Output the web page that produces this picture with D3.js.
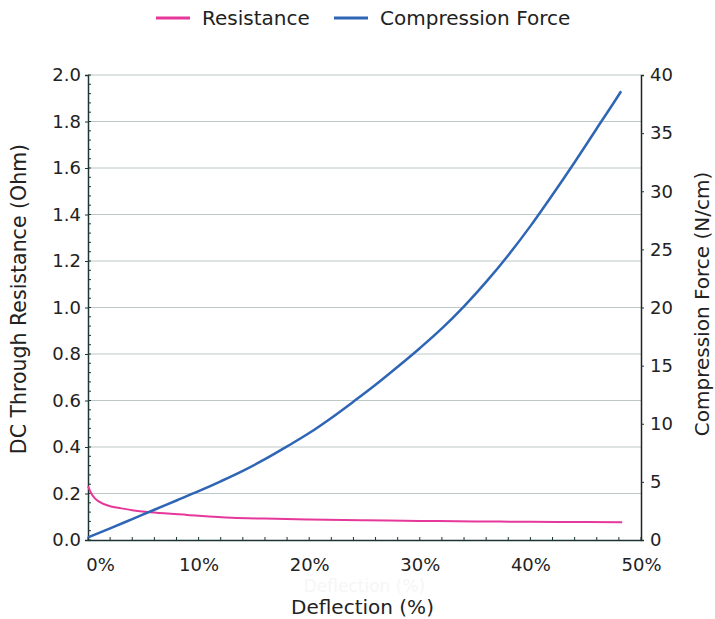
<!DOCTYPE html>
<html>
<head>
<meta charset="utf-8">
<script src="https://cdn.jsdelivr.net/npm/d3@7"></script>
<style>
  body { margin: 0; background: #fff; }
  text { font-family: "DejaVu Sans", sans-serif; fill: #222; }
</style>
</head>
<body>
<div id="chart"></div>
<script>
// deflection (%) -> DC through resistance (Ohm)
const resDeflection = [0, 0.3, 0.6, 1, 2, 3, 4, 6, 9, 13, 16, 20, 25, 30, 35, 40, 45, 48.3];
const resValues = [0.232, 0.2, 0.18, 0.165, 0.145, 0.136, 0.128, 0.118, 0.108, 0.096, 0.092, 0.088, 0.085, 0.082, 0.080, 0.078, 0.077, 0.076];

// deflection (%) -> compression force (N/cm)
const forceDeflection = [0, 2, 4, 6, 8, 10, 12, 14, 16, 18, 20, 22, 24, 26, 28, 30, 32, 34, 36, 38, 40, 42, 44, 46, 48, 48.2];
const forceValues = [0.22, 1.0, 1.8, 2.6, 3.4, 4.2, 5.05, 5.95, 6.95, 8.05, 9.2, 10.5, 11.9, 13.35, 14.9, 16.5, 18.2, 20.1, 22.2, 24.5, 27.0, 29.7, 32.5, 35.4, 38.3, 38.6];

const leftTicks = [0, 0.2, 0.4, 0.6, 0.8, 1.0, 1.2, 1.4, 1.6, 1.8, 2.0];
const rightTicks = [0, 5, 10, 15, 20, 25, 30, 35, 40];
const xTicks = [0, 10, 20, 30, 40, 50];

const width = 715, height = 619;
const margins = { top: 75, right: 74, bottom: 79, left: 88 };
const innerW = width - margins.left - margins.right;
const innerH = height - margins.top - margins.bottom;

const pink = "#e6389a";
const blue = "#2f65b5";

const svg = d3.select("#chart")
  .append("svg")
  .attr("width", width)
  .attr("height", height);

const g = svg.append("g")
  .attr("transform", `translate(${margins.left}, ${margins.top})`);

const x = d3.scaleLinear().domain([0, 50]).range([0, innerW]);
const yL = d3.scaleLinear().domain([0, 2]).range([innerH, 0]);
const yR = d3.scaleLinear().domain([0, 40]).range([innerH, 0]);

// gridlines
g.append("g")
  .selectAll("line")
  .data(leftTicks.slice(1))
  .join("line")
  .attr("x1", 0)
  .attr("x2", innerW)
  .attr("y1", d => yL(d))
  .attr("y2", d => yL(d))
  .attr("stroke", "#bcc7c7")
  .attr("stroke-width", 1);

// minor ticks (inside)
g.append("g")
  .selectAll("line")
  .data(d3.range(0, 2.001, 0.04))
  .join("line")
  .attr("x1", 0).attr("x2", 3)
  .attr("y1", d => yL(d)).attr("y2", d => yL(d))
  .attr("stroke", "#1c3434");

g.append("g")
  .selectAll("line")
  .data(d3.range(0, 50.001, 2))
  .join("line")
  .attr("x1", d => x(d)).attr("x2", d => x(d))
  .attr("y1", innerH).attr("y2", innerH - 3)
  .attr("stroke", "#1c3434");

// axes
const xAxis = g.append("g")
  .attr("transform", `translate(0, ${innerH})`)
  .call(d3.axisBottom(x).tickValues(xTicks).tickFormat(d => d + "%").tickSize(0).tickPadding(18));

const leftAxis = g.append("g")
  .call(d3.axisLeft(yL).tickValues(leftTicks).tickFormat(d3.format(".1f")).tickSize(3).tickPadding(4));

const rightAxis = g.append("g")
  .attr("transform", `translate(${innerW}, 0)`)
  .call(d3.axisRight(yR).tickValues(rightTicks).tickSize(3).tickPadding(6));

[xAxis, leftAxis, rightAxis].forEach(a => {
  a.select(".domain").attr("stroke", "#1c3434").attr("stroke-width", 1.5);
  a.selectAll(".tick line").attr("stroke", "#1c3434");
  a.selectAll("text").attr("font-size", 18).attr("font-family", "DejaVu Sans").attr("fill", "#222");
});
rightAxis.select(".domain").attr("stroke", "#222");
xAxis.selectAll(".tick text").filter(d => d === 0).attr("dx", 12);

// lines
const resLine = d3.line()
  .x((d, i) => x(resDeflection[i]))
  .y(d => yL(d))
  .curve(d3.curveMonotoneX);

const forceLine = d3.line()
  .x((d, i) => x(forceDeflection[i]))
  .y(d => yR(d))
  .curve(d3.curveMonotoneX);

g.append("path")
  .datum(resValues)
  .attr("fill", "none")
  .attr("stroke", pink)
  .attr("stroke-width", 2)
  .attr("d", resLine);

g.append("path")
  .datum(forceValues)
  .attr("fill", "none")
  .attr("stroke", blue)
  .attr("stroke-width", 2.5)
  .attr("d", forceLine);

// axis titles (faint duplicate sits just above the real one in the original)
svg.append("text")
  .attr("x", margins.left + innerW / 2)
  .attr("y", 592)
  .attr("text-anchor", "middle")
  .attr("font-size", 17)
  .style("fill", "#f6f6f6")
  .text("Deflection (%)");

svg.append("text")
  .attr("x", margins.left + innerW / 2 - 2)
  .attr("y", 614)
  .attr("text-anchor", "middle")
  .attr("font-size", 20)
  .text("Deflection (%)");

svg.append("text")
  .attr("transform", "rotate(-90)")
  .attr("x", -299)
  .attr("y", 26)
  .attr("text-anchor", "middle")
  .attr("font-size", 20.5)
  .text("DC Through Resistance (Ohm)");

svg.append("text")
  .attr("transform", "rotate(-90)")
  .attr("x", -304)
  .attr("y", 709)
  .attr("text-anchor", "middle")
  .attr("font-size", 20)
  .text("Compression Force (N/cm)");

// legend
const legend = svg.append("g");
const items = [
  { name: "Resistance", color: pink, x: 156 },
  { name: "Compression Force", color: blue, x: 334 }
];
items.forEach(it => {
  legend.append("line")
    .attr("x1", it.x).attr("x2", it.x + 34)
    .attr("y1", 18).attr("y2", 18)
    .attr("stroke", it.color)
    .attr("stroke-width", 3);
  legend.append("text")
    .attr("x", it.x + 46)
    .attr("y", 25)
    .attr("font-size", 20)
    .text(it.name);
});
</script>
</body>
</html>
